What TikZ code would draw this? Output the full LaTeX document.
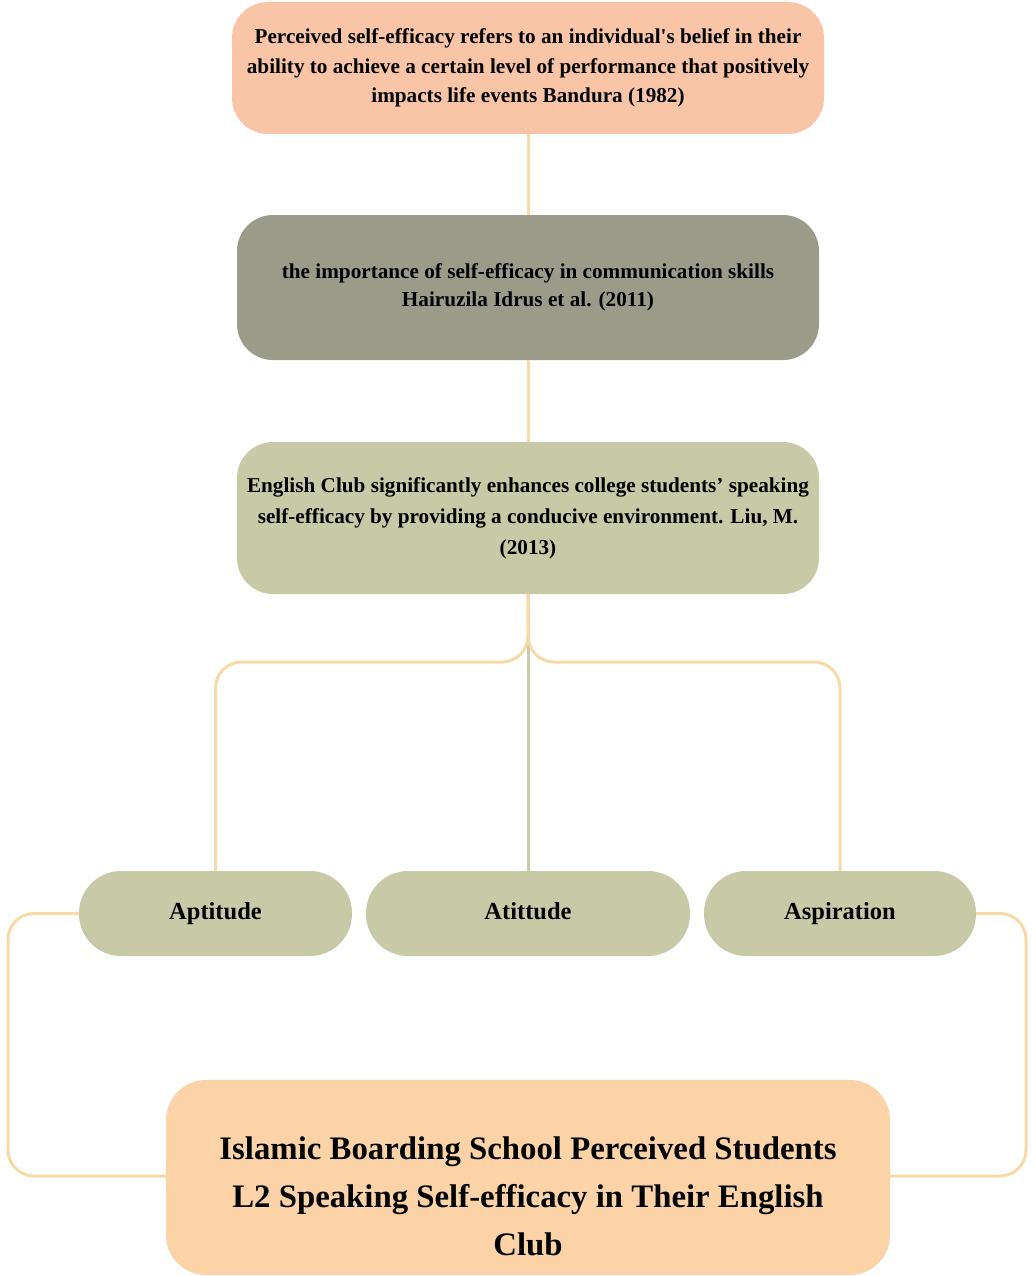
\documentclass[tikz,border=0pt]{standalone}
\usepackage{fontspec}
\setmainfont{Liberation Serif}
\definecolor{cTop}{HTML}{F9C5A6}
\definecolor{cDark}{HTML}{9A9C89}
\definecolor{cGreen}{HTML}{C8C9A6}
\definecolor{cBot}{HTML}{FCD3A6}
\definecolor{cLine}{HTML}{F8D9A8}
\begin{document}
\begin{tikzpicture}[x=1pt,y=-1pt,
  box/.style={draw=none,align=center,inner sep=0pt,font=\bfseries\fontsize{21.2}{29.5}\selectfont},
  pill/.style={draw=none,fill=cGreen,align=center,inner sep=0pt,rounded corners=42pt,minimum height=85pt,text height=17pt,text depth=5pt,font=\bfseries\fontsize{24.5}{28}\selectfont},
  conn/.style={draw=cLine,line width=3pt},
  conng/.style={draw=cGreen,line width=3pt}]
\useasboundingbox (0,0) rectangle (1032,1276);
\node[box,fill=cTop,rounded corners=36pt,minimum width=592pt,minimum height=132pt] (n1) at (528,68)
  {Perceived self-efficacy refers to an individual\textquotesingle s belief in their\\ability to achieve a certain level of performance that positively\\impacts life events Bandura (1982)};
\node[box,fill=cDark,rounded corners=36pt,minimum width=582pt,minimum height=145pt,font=\bfseries\fontsize{21.2}{28}\selectfont] (n2) at (528,287.5)
  {the importance of self-efficacy in communication skills\\Hairuzila Idrus et al. (2011)};
\node[box,fill=cGreen,rounded corners=36pt,minimum width=582pt,minimum height=152pt,font=\bfseries\fontsize{21.2}{31}\selectfont] (n3) at (528,518)
  {English Club significantly enhances college students' speaking\\self-efficacy by providing a conducive environment. Liu, M.\\(2013)};
\node[pill,minimum width=273pt] (apt) at (215.5,913.5) {Aptitude};
\node[pill,minimum width=324pt] (ati) at (528,913.5) {Atittude};
\node[pill,minimum width=272pt] (asp) at (840,913.5) {Aspiration};
\node[box,fill=cBot,rounded corners=40pt,minimum width=724pt,minimum height=195pt] (bot) at (528,1177.5) {};
\node[box,font=\bfseries\fontsize{32.8}{48}\selectfont] (bottxt) at ([yshift=-19pt]bot.center)
  {Islamic Boarding School Perceived Students\\L2 Speaking Self-efficacy in Their English\\Club};
\coordinate (hb) at (528,662);
\coordinate (lx) at (8,0);
\coordinate (rx) at (1026,0);
\coordinate (bl) at ([yshift=1.5pt]bot.west);
\coordinate (br) at ([yshift=1.5pt]bot.east);
\draw[conn] (n1.south) -- (n2.north);
\draw[conn] (n2.south) -- (n3.north);
\draw[conng] (n3.south) -- (ati.north);
\draw[conn,rounded corners=26pt] (n3.south) -- (n3.south |- hb) -| (apt.north);
\draw[conn,rounded corners=26pt] (n3.south) -- (n3.south |- hb) -| (asp.north);
\draw[conn,rounded corners=26pt] (apt.west) -| (lx |- bl) -- (bl);
\draw[conn,rounded corners=26pt] (asp.east) -| (rx |- br) -- (br);
\end{tikzpicture}
\end{document}
